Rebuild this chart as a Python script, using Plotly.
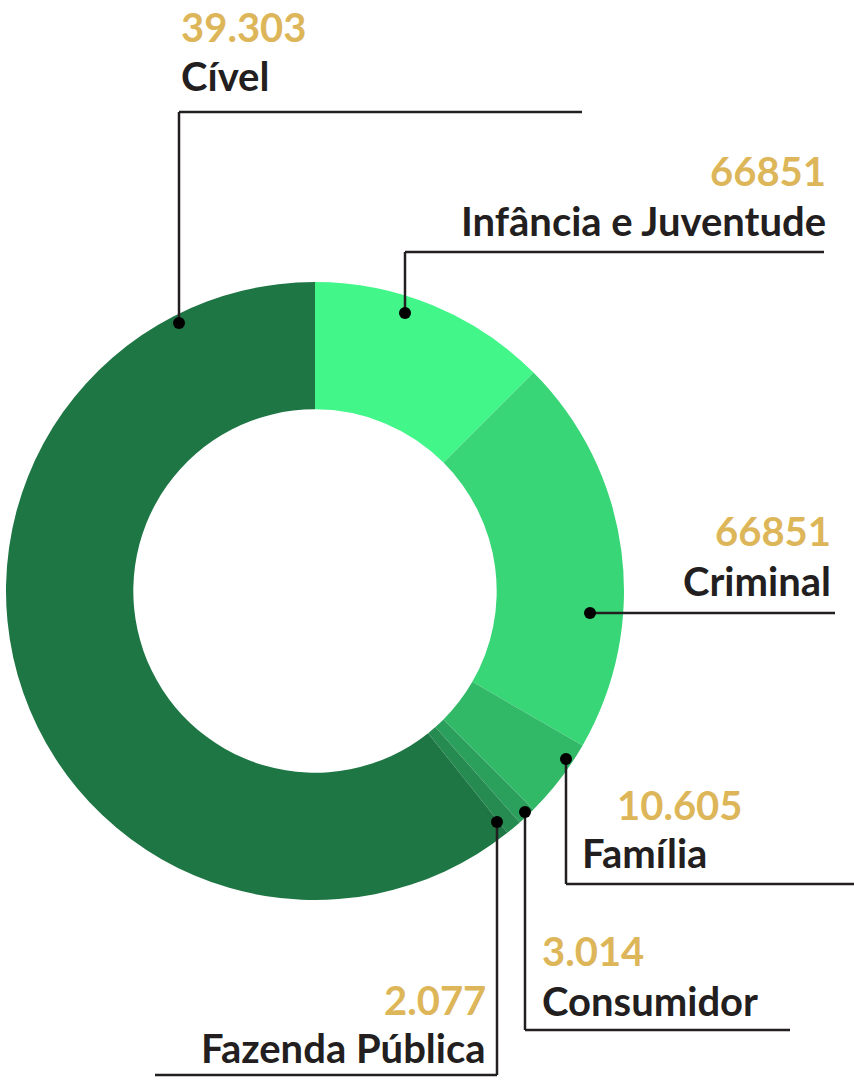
import plotly.graph_objects as go

W, H = 854, 1080

# Slice order clockwise from 12 o'clock
categories = ["Infância e Juventude", "Criminal", "Família", "Consumidor", "Fazenda Pública", "Cível"]
# Slice sizes (degrees of arc)
slice_sizes = [45, 75, 15, 3.5, 3, 218.5]
# Numbers printed next to each label
value_labels = ["66851", "66851", "10.605", "3.014", "2.077", "39.303"]
colors = ["#43F68A", "#38D677", "#32B968", "#2BA05C", "#268B51", "#1F7645"]

GOLD = "#DDB65A"
DARK = "#231F20"
FONT = "Lato, 'Open Sans', sans-serif"


def px(x):
    return x / W


def py(y):
    return 1 - y / H


cx, cy, R = 315, 591, 309

fig = go.Figure(go.Pie(
    labels=categories,
    values=slice_sizes,
    sort=False,
    direction="clockwise",
    rotation=0,
    hole=0.588,
    marker=dict(colors=colors, line=dict(width=0)),
    textinfo="none",
    hoverinfo="label",
    showlegend=False,
    domain=dict(x=[px(cx - R), px(cx + R)], y=[py(cy + R), py(cy - R)]),
))

# idx, text x, number y, name y, xanchor, leader path (first point = dot)
layout_items = [
    (5, 179, 27, 76, "left", [(179, 323), (179, 112), (582, 112)]),
    (0, 828, 171, 221, "right", [(405, 313), (405, 252), (824, 252)]),
    (1, 833, 531, 581, "right", [(590, 613), (835, 613)]),
    (2, None, 805, 853, None, [(566, 759), (566, 884), (854, 884)]),
    (3, 540, 951, 1001, "left", [(525, 812), (525, 1030), (790, 1030)]),
    (4, 488, 1000, 1048, "right", [(497, 822), (497, 1075), (155, 1075)]),
]

shapes = []
annotations = []
for idx, x, yn, ym, anchor, pts in layout_items:
    if idx == 2:
        annotations.append(dict(x=px(745), y=py(yn), text=value_labels[idx], xanchor="right",
                                font=dict(color=GOLD)))
        annotations.append(dict(x=px(580), y=py(ym), text=categories[idx], xanchor="left",
                                font=dict(color=DARK)))
    else:
        annotations.append(dict(x=px(x), y=py(yn), text=value_labels[idx], xanchor=anchor,
                                font=dict(color=GOLD)))
        annotations.append(dict(x=px(x), y=py(ym), text=categories[idx], xanchor=anchor,
                                font=dict(color=DARK)))
    for (x0, y0), (x1, y1) in zip(pts[:-1], pts[1:]):
        shapes.append(dict(type="line", xref="paper", yref="paper",
                           x0=px(x0), y0=py(y0), x1=px(x1), y1=py(y1),
                           line=dict(color=DARK, width=2.5)))
    dx, dy = pts[0]
    r = 6
    shapes.append(dict(type="circle", xref="paper", yref="paper",
                       x0=px(dx - r), x1=px(dx + r), y0=py(dy + r), y1=py(dy - r),
                       fillcolor="#000000", line=dict(width=0)))

for a in annotations:
    a.update(xref="paper", yref="paper", yanchor="middle", showarrow=False)
    a["font"].update(family=FONT, size=40)
    a["text"] = "<b>" + a["text"] + "</b>"

fig.update_layout(
    width=W, height=H,
    margin=dict(l=0, r=0, t=0, b=0),
    paper_bgcolor="white",
    plot_bgcolor="white",
    shapes=shapes,
    annotations=annotations,
)

fig.write_html(
    "out.html",
    config={"displayModeBar": False},
    post_script="document.body.style.margin='0';document.body.style.overflow='hidden';",
)
